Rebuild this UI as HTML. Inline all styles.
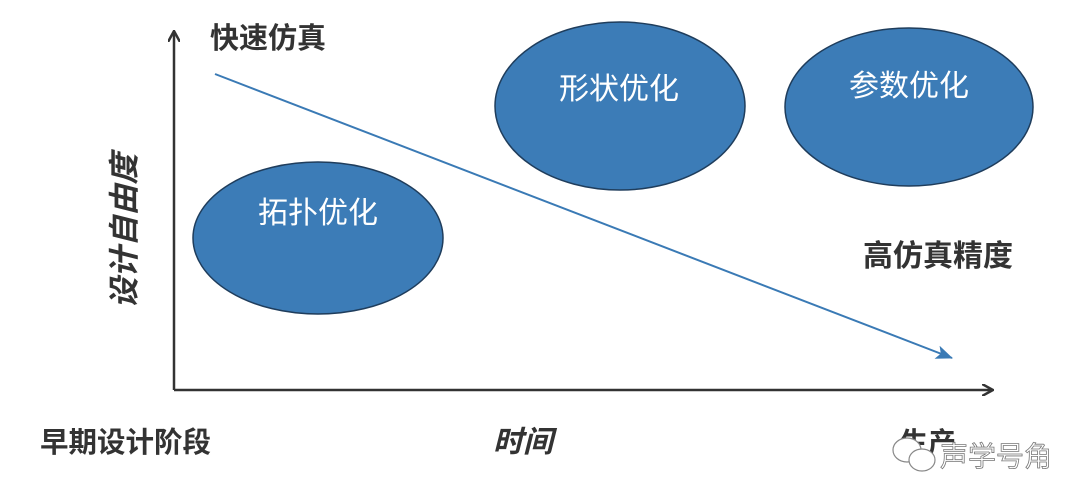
<!DOCTYPE html>
<html><head><meta charset="utf-8"><style>
html,body{margin:0;padding:0;background:#fff;}
svg{display:block;}
text{font-family:"Liberation Sans","Noto Sans CJK SC",sans-serif;}
</style></head><body>
<svg width="1080" height="502" viewBox="0 0 1080 502" xmlns="http://www.w3.org/2000/svg">
<defs>
<marker id="ab" markerWidth="12" markerHeight="12" refX="10" refY="6" orient="auto" markerUnits="userSpaceOnUse"><path d="M0,0 L11,6 L0,12" fill="none" stroke="#333" stroke-width="2.5"/></marker>
<marker id="bl" markerWidth="18" markerHeight="14" refX="16" refY="7" orient="auto" markerUnits="userSpaceOnUse"><path d="M0,0 L17,7 L0,14 L4,7 z" fill="#3a7ab5"/></marker>
</defs>
<line x1="174" y1="390" x2="174" y2="32" stroke="#333" stroke-width="2.5" marker-end="url(#ab)"/>
<line x1="174" y1="390" x2="992" y2="390" stroke="#333" stroke-width="2.5" marker-end="url(#ab)"/>
<line x1="215" y1="74" x2="952" y2="358" stroke="#3a7ab5" stroke-width="2" marker-end="url(#bl)"/>
<ellipse cx="318" cy="238" rx="125" ry="76" fill="#3c7cb7" stroke="#1f3d5c" stroke-width="1.5"/>
<ellipse cx="620" cy="106" rx="125" ry="84" fill="#3c7cb7" stroke="#1f3d5c" stroke-width="1.5"/>
<ellipse cx="909" cy="107" rx="124" ry="79" fill="#3c7cb7" stroke="#1f3d5c" stroke-width="1.5"/>
<text x="318" y="223" font-size="30" fill="#fff" text-anchor="middle">拓扑优化</text>
<text x="619" y="99" font-size="30" fill="#fff" text-anchor="middle">形状优化</text>
<text x="909" y="96" font-size="30" fill="#fff" text-anchor="middle">参数优化</text>
<text x="210" y="48" font-size="29" font-weight="bold" fill="#333">快速仿真</text>
<text x="863" y="266" font-size="30" font-weight="bold" fill="#333">高仿真精度</text>
<text x="40" y="452" font-size="28.5" font-weight="bold" fill="#333">早期设计阶段</text>
<text x="493" y="452" font-size="30" font-weight="bold" font-style="italic" fill="#333">时间</text>
<text x="900" y="452" font-size="28" font-weight="bold" fill="#333">生产</text>
<text transform="translate(135,231) rotate(-90)" font-size="31" font-weight="bold" font-style="italic" fill="#333" text-anchor="middle">设计自由度</text>
<g fill="#fff" stroke="#888" stroke-width="1.2">
<ellipse cx="907" cy="450" rx="14" ry="12"/>
<ellipse cx="922" cy="460" rx="13" ry="11"/>
</g>
<text x="940" y="466" font-size="28" fill="#fff" stroke="#777" stroke-width="0.8">声学号角</text>
</svg>
</body></html>
